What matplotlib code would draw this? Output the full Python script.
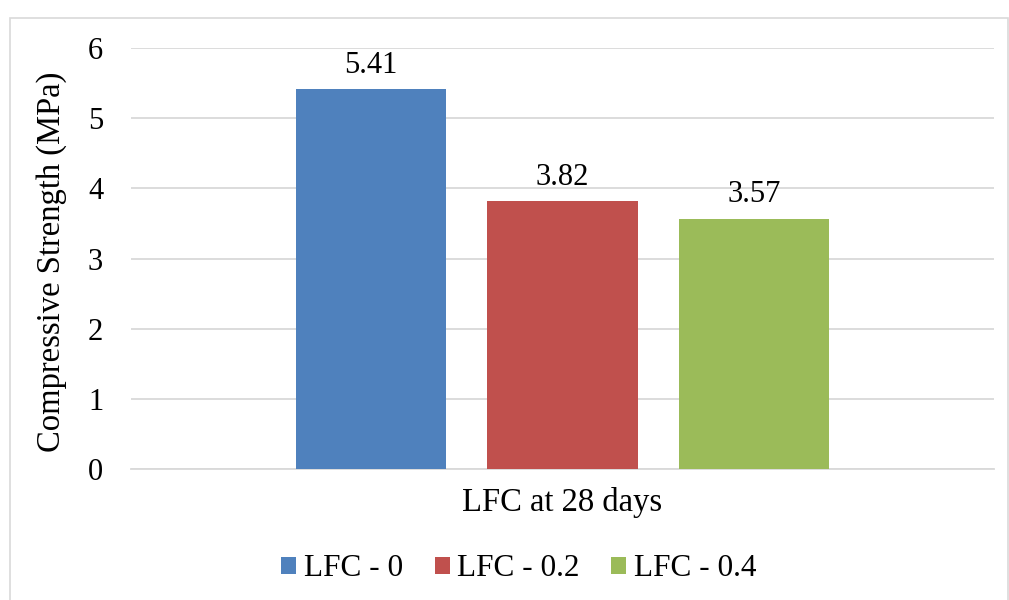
import matplotlib
matplotlib.use("Agg")
import matplotlib.pyplot as plt
from matplotlib.patches import Rectangle

plt.rcParams['font.family'] = ['Liberation Serif', 'DejaVu Serif']

category = "LFC at 28 days"
series = ["LFC - 0", "LFC - 0.2", "LFC - 0.4"]
values = [5.41, 3.82, 3.57]
colors = ["#4F81BD", "#C0504D", "#9BBB59"]
yticks = [0, 1, 2, 3, 4, 5, 6]

fig = plt.figure(figsize=(10.09, 6.0), dpi=100)
ax = fig.add_axes([131 / 1009, 1 - 469 / 600, 863 / 1009, 421 / 600])

# outer chart frame
fig.patches.append(Rectangle((10 / 1009, -0.01), 998 / 1009, 1 - 18 / 600 + 0.01,
                             transform=fig.transFigure, fill=False,
                             edgecolor="#D9D9D9", linewidth=1.2))

width = 0.174
step = 0.2216
for i, (name, v, c) in enumerate(zip(series, values, colors)):
    x = (i - 1) * step
    ax.bar(x, v, width=width, color=c, label=name, zorder=3)
    ax.annotate(f"{v:.2f}", (x, v), xytext=(0, 6.5), textcoords="offset points",
                ha="center", va="bottom", fontsize=22)

ax.set_xlim(-0.5, 0.5)
ax.set_ylim(0, 6)
ax.set_yticks(yticks)
ax.set_yticklabels([str(t) for t in yticks], fontsize=22)
ax.set_xticks([0])
ax.set_xticklabels([category], fontsize=23.5)
ax.tick_params(axis="both", length=0)
ax.tick_params(axis="y", pad=20)
ax.tick_params(axis="x", pad=13)
ax.yaxis.grid(True, color="#D9D9D9", linewidth=1.3, zorder=0)
ax.set_axisbelow(True)
for s in ["top", "right", "left"]:
    ax.spines[s].set_visible(False)
ax.spines["bottom"].set_color("#D9D9D9")
ax.spines["bottom"].set_linewidth(1.3)

ax.set_ylabel("Compressive Strength (MPa)", fontsize=23.5)
ax.yaxis.set_label_coords(-0.074, 0.4917)

fig.legend(loc="center", bbox_to_anchor=(519 / 1009, 1 - 569 / 600), ncol=3,
           frameon=False, fontsize=22.5, handlelength=0.48, handleheight=0.48,
           handletextpad=0.25, columnspacing=1.0, borderpad=0, borderaxespad=0)

fig.savefig("out.png", dpi=100, facecolor="white")
